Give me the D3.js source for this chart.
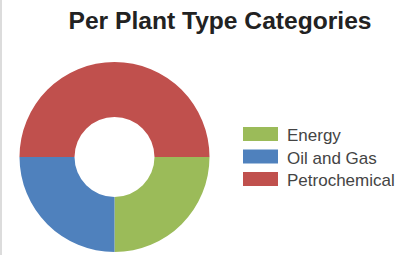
<!DOCTYPE html>
<html><head><meta charset="utf-8">
<script src="https://cdn.jsdelivr.net/npm/d3@7"></script>
<style>html,body{margin:0;padding:0;background:#fff;overflow:hidden}</style>
</head><body>
<script>
const title = "Per Plant Type Categories";
const categories = ["Energy", "Oil and Gas", "Petrochemical"];
const values = [25, 25, 50];
const colors = ["#9bbb59", "#4f81bd", "#c0504d"];

const W = 406, H = 255;
const svg = d3.select("body").append("svg").attr("width", W).attr("height", H);
svg.append("rect").attr("width", W).attr("height", H).attr("fill", "#fff");
svg.append("rect").attr("x", 0).attr("y", 0).attr("width", 2).attr("height", H).attr("fill", "#dcdcdc");

svg.append("text").attr("x", 220).attr("y", 29).attr("text-anchor", "middle")
  .attr("font-family", "Liberation Sans, Arial, sans-serif").attr("font-weight", "bold")
  .attr("font-size", 24.6).attr("fill", "#222").text(title);

const color = d3.scaleOrdinal().domain(categories).range(colors);
const pie = d3.pie().sort(null).value(d => d.v).startAngle(Math.PI/2).endAngle(Math.PI/2 + 2*Math.PI);
const arc = d3.arc().innerRadius(40).outerRadius(95);
const data = categories.map((c, i) => ({c, v: values[i]}));
const g = svg.append("g").attr("transform", "translate(114.5,157)");
g.selectAll("path").data(pie(data)).join("path").attr("d", arc).attr("fill", d => color(d.data.c));

const lg = svg.append("g").attr("transform", "translate(243,127)");
const items = lg.selectAll("g").data(categories).join("g").attr("transform", (d, i) => `translate(0,${i*22.5})`);
items.append("rect").attr("width", 35).attr("height", 14).attr("fill", d => color(d));
items.append("text").attr("x", 44).attr("y", 14).attr("font-family", "Liberation Sans, Arial, sans-serif")
  .attr("font-size", 17).attr("fill", "#444").text(d => d);
</script>
</body></html>
